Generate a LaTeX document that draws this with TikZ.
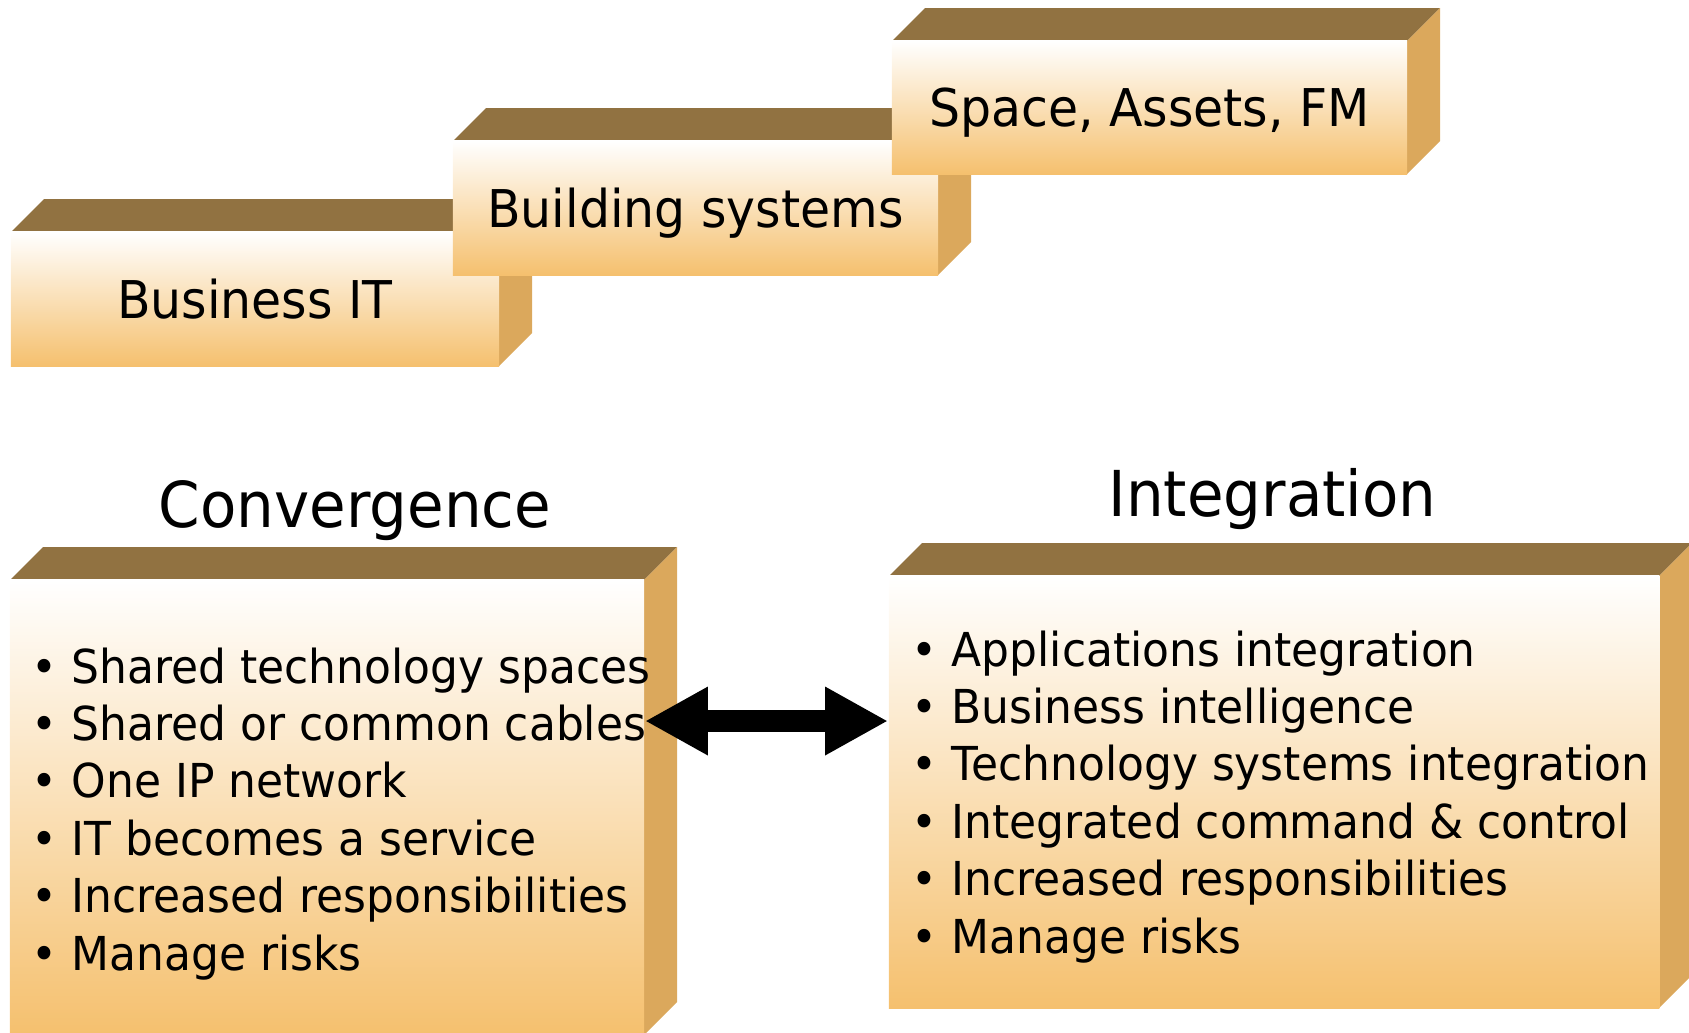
\documentclass[tikz,border=0pt]{standalone}
\usepackage{fontspec}
\setmainfont{DejaVu Sans}[FakeStretch=0.94]
\usepackage{tikz}
\usetikzlibrary{arrows.meta}

\definecolor{topbrown}{RGB}{145,114,65}
\definecolor{sidetan}{RGB}{219,168,92}
\definecolor{boxorange}{RGB}{245,192,110}

\begin{document}
\begin{tikzpicture}[x=0.01cm, y=-0.01cm,
	front/.style={rectangle, inner sep=0pt, top color=white, bottom color=boxorange, font=\fontsize{14.8}{18}\selectfont, text height=10.8pt, text depth=0pt},
	topface/.style={fill=topbrown},
	sideface/.style={fill=sidetan},
	heading/.style={anchor=base, inner sep=0pt, font=\fontsize{18}{22}\selectfont},
	item/.style={anchor=base west, inner sep=0pt, font=\fontsize{13.3}{16}\selectfont},
	bothway/.style={line width=0.22cm, {Triangle[length=0.63cm, width=0.64cm]}-{Triangle[length=0.63cm, width=0.64cm]}}]
			\useasboundingbox (0,0) rectangle (1689,1032);
			
			% three steps
			\fill[topface] (11,232) -- ++(33,-33) -- ++(488,0) -- ++(-33,33) -- cycle;
			\fill[sideface] (499,232) -- ++(33,-33) -- ++(0,134) -- ++(-33,33) -- cycle;
			\node[front, minimum width=4.88cm, minimum height=1.34cm] (bizit) at (255,299) {Business IT};
			
			\fill[topface] (453,141) -- ++(33,-33) -- ++(485,0) -- ++(-33,33) -- cycle;
			\fill[sideface] (938,141) -- ++(33,-33) -- ++(0,134) -- ++(-33,33) -- cycle;
			\node[front, minimum width=4.85cm, minimum height=1.34cm] (bldg) at (695.5,208) {Building systems};
			
			\fill[topface] (892,41) -- ++(33,-33) -- ++(515,0) -- ++(-33,33) -- cycle;
			\fill[sideface] (1407,41) -- ++(33,-33) -- ++(0,133) -- ++(-33,33) -- cycle;
			\node[front, minimum width=5.15cm, minimum height=1.33cm] (space) at (1149.5,107.5) {Space, Assets, FM};
			
			% two big boxes
			\node[heading] (convtitle) at (355,527) {Convergence};
			\fill[topface] (10,580) -- ++(33,-33) -- ++(634,0) -- ++(-33,33) -- cycle;
			\fill[sideface] (644,580) -- ++(33,-33) -- ++(0,455) -- ++(-33,33) -- cycle;
			\node[front, minimum width=6.34cm, minimum height=4.55cm] (convf) at (327,807.5) {};
			
			\node[heading] (integtitle) at (1272.5,516) {Integration};
			\fill[topface] (889,576) -- ++(33,-33) -- ++(770,0) -- ++(-33,33) -- cycle;
			\fill[sideface] (1659,576) -- ++(33,-33) -- ++(0,432) -- ++(-33,33) -- cycle;
			\node[front, minimum width=7.70cm, minimum height=4.32cm] (integf) at (1274,792) {};
			
			\foreach \t [count=\i] in {Shared technology spaces, Shared or common cables, One IP network, IT becomes a service, Increased responsibilities, Manage risks}
				\node[item] (conv\i) at (71,683+57.4*\i-57.4) {\llap{\textbullet\hspace{4pt}}\t};
			
			\foreach \t [count=\i] in {Applications integration, Business intelligence, Technology systems integration, Integrated command \& control, Increased responsibilities, Manage risks}
				\node[item] (integ\i) at (951,666+57.4*\i-57.4) {\llap{\textbullet\hspace{4pt}}\t};
			
			\coordinate (arrowlevel) at (0,721);
			\draw[bothway] (convf.east |- arrowlevel) -- (integf.west |- arrowlevel);
			\end{tikzpicture}
\end{document}
